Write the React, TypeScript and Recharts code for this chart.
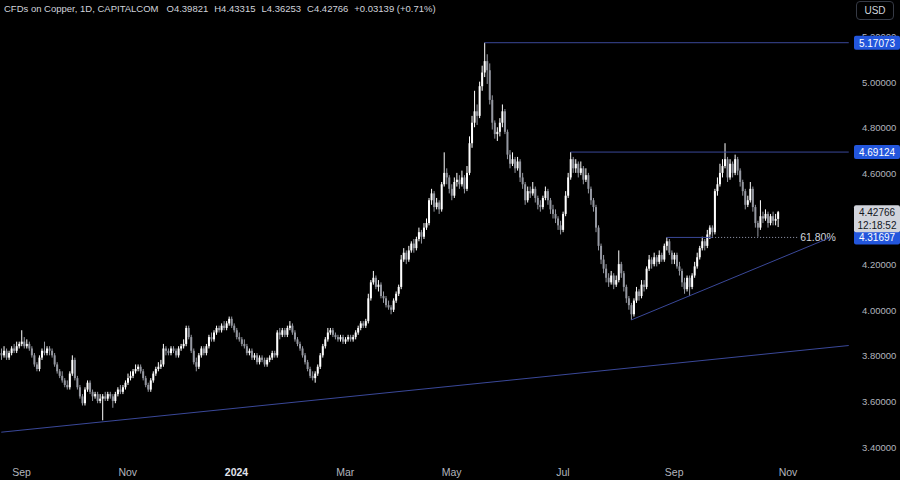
import React from "react";
import { ComposedChart, Bar, XAxis, YAxis, ReferenceLine } from "recharts";

// daily bars, index 0 = first bar of Sep 2023; bars -8..299, empty slots up to 327
const firstIndex = -8;
const lastSlot = 327;
const firstOpen = 3.81;

const closes = [
  3.80, 3.82, 3.79, 3.81, 3.83, 3.82, 3.84, 3.85, 3.86, 3.84,
  3.85, 3.83, 3.80, 3.76, 3.74, 3.79, 3.82, 3.81, 3.83, 3.82,
  3.80, 3.76, 3.73, 3.71, 3.69, 3.67, 3.66, 3.72, 3.78, 3.70,
  3.66, 3.62, 3.59, 3.65, 3.68, 3.64, 3.62, 3.63, 3.60, 3.61,
  3.62, 3.61, 3.63, 3.62, 3.60, 3.63, 3.65, 3.64, 3.66, 3.68,
  3.70, 3.71, 3.73, 3.74, 3.75, 3.73, 3.70, 3.67, 3.65, 3.69,
  3.72, 3.74, 3.75, 3.76, 3.83, 3.82, 3.81, 3.83, 3.82, 3.80,
  3.83, 3.84, 3.85, 3.92, 3.88, 3.82, 3.77, 3.75, 3.80, 3.83,
  3.81, 3.84, 3.88, 3.87, 3.90, 3.92, 3.91, 3.93, 3.92, 3.94,
  3.96, 3.93, 3.91, 3.88, 3.87, 3.85, 3.84, 3.81, 3.82, 3.79,
  3.80, 3.77, 3.79, 3.78, 3.76, 3.78, 3.79, 3.81, 3.80, 3.90,
  3.89, 3.91, 3.89, 3.92, 3.93, 3.90, 3.87, 3.85, 3.83, 3.80,
  3.77, 3.74, 3.71, 3.70, 3.72, 3.75, 3.80, 3.84, 3.87, 3.90,
  3.91, 3.89, 3.88, 3.87, 3.88, 3.86, 3.87, 3.88, 3.87, 3.88,
  3.90, 3.92, 3.94, 3.93, 3.95, 4.05, 4.12, 4.14, 4.10, 4.11,
  4.06, 4.05, 4.02, 4.01, 4.00, 4.04, 4.07, 4.10, 4.22, 4.25,
  4.22, 4.26, 4.29, 4.27, 4.31, 4.34, 4.32, 4.36, 4.38, 4.48,
  4.51, 4.45, 4.47, 4.44, 4.55, 4.60, 4.58, 4.53, 4.50, 4.56,
  4.57, 4.55, 4.58, 4.53, 4.60, 4.73, 4.82, 4.87, 4.85, 4.98,
  5.04, 5.09, 5.05, 4.92, 4.82, 4.77, 4.78, 4.82, 4.87, 4.78,
  4.68, 4.64, 4.66, 4.62, 4.65, 4.58, 4.55, 4.48, 4.52, 4.51,
  4.53, 4.49, 4.46, 4.45, 4.49, 4.52, 4.48, 4.44, 4.42, 4.40,
  4.37, 4.35, 4.42, 4.50, 4.58, 4.66, 4.62, 4.64, 4.60, 4.62,
  4.57, 4.59, 4.53, 4.48, 4.45, 4.36, 4.28, 4.22, 4.18, 4.14,
  4.12, 4.15, 4.11, 4.13, 4.20, 4.16, 4.10, 4.05, 4.02, 3.98,
  4.04, 4.08, 4.06, 4.11, 4.10, 4.18, 4.22, 4.20, 4.23, 4.21,
  4.24, 4.22, 4.28, 4.30, 4.25, 4.22, 4.24, 4.19, 4.17, 4.12,
  4.09, 4.14, 4.10, 4.15, 4.19, 4.23, 4.27, 4.30, 4.28, 4.33,
  4.36, 4.34, 4.52, 4.55, 4.60, 4.63, 4.66, 4.58, 4.64, 4.60,
  4.66, 4.61, 4.56, 4.52, 4.46, 4.48, 4.53, 4.45, 4.38, 4.36,
  4.41, 4.40, 4.42, 4.38, 4.41, 4.39, 4.39821, 4.42766,
];

const highs = [
  3.83, 3.84, 3.83, 3.82, 3.84, 3.85, 3.86, 3.86, 3.91, 3.88,
  3.87, 3.86, 3.84, 3.81, 3.77, 3.80, 3.83, 3.86, 3.84, 3.84,
  3.83, 3.81, 3.77, 3.74, 3.73, 3.70, 3.69, 3.73, 3.80, 3.79,
  3.71, 3.67, 3.63, 3.66, 3.69, 3.69, 3.65, 3.64, 3.64, 3.63,
  3.63, 3.64, 3.64, 3.64, 3.63, 3.64, 3.66, 3.67, 3.67, 3.69,
  3.72, 3.73, 3.74, 3.76, 3.76, 3.76, 3.74, 3.71, 3.68, 3.70,
  3.73, 3.75, 3.77, 3.78, 3.85, 3.84, 3.83, 3.84, 3.84, 3.83,
  3.84, 3.85, 3.87, 3.93, 3.93, 3.89, 3.83, 3.79, 3.81, 3.84,
  3.84, 3.85, 3.89, 3.90, 3.91, 3.93, 3.93, 3.94, 3.95, 3.95,
  3.97, 3.97, 3.94, 3.92, 3.90, 3.88, 3.87, 3.85, 3.83, 3.83,
  3.81, 3.81, 3.80, 3.80, 3.79, 3.79, 3.80, 3.82, 3.82, 3.91,
  3.92, 3.92, 3.92, 3.93, 3.95, 3.94, 3.91, 3.88, 3.86, 3.84,
  3.81, 3.78, 3.75, 3.73, 3.73, 3.76, 3.81, 3.85, 3.88, 3.92,
  3.92, 3.92, 3.90, 3.89, 3.89, 3.89, 3.88, 3.89, 3.89, 3.89,
  3.91, 3.93, 3.95, 3.95, 3.96, 4.07, 4.13, 4.17, 4.15, 4.13,
  4.12, 4.08, 4.06, 4.04, 4.02, 4.05, 4.08, 4.11, 4.24, 4.27,
  4.26, 4.28, 4.30, 4.31, 4.32, 4.36, 4.35, 4.38, 4.40, 4.49,
  4.53, 4.52, 4.49, 4.48, 4.56, 4.69, 4.62, 4.59, 4.55, 4.58,
  4.60, 4.59, 4.61, 4.59, 4.63, 4.76, 4.85, 4.96, 4.90, 5.00,
  5.07, 5.1707, 5.12, 5.08, 4.94, 4.83, 4.80, 4.84, 4.90, 4.88,
  4.79, 4.70, 4.69, 4.67, 4.67, 4.66, 4.60, 4.56, 4.54, 4.54,
  4.56, 4.54, 4.50, 4.48, 4.50, 4.54, 4.53, 4.49, 4.46, 4.44,
  4.41, 4.39, 4.43, 4.52, 4.60, 4.6912, 4.67, 4.66, 4.65, 4.65,
  4.63, 4.62, 4.60, 4.54, 4.49, 4.46, 4.37, 4.29, 4.24, 4.20,
  4.16, 4.17, 4.16, 4.15, 4.26, 4.21, 4.17, 4.11, 4.06, 4.03,
  4.05, 4.10, 4.09, 4.13, 4.13, 4.19, 4.24, 4.23, 4.25, 4.24,
  4.26, 4.25, 4.29, 4.317, 4.31, 4.26, 4.25, 4.25, 4.21, 4.18,
  4.14, 4.15, 4.15, 4.16, 4.21, 4.25, 4.28, 4.32, 4.31, 4.35,
  4.37, 4.37, 4.53, 4.58, 4.64, 4.66, 4.73, 4.67, 4.66, 4.65,
  4.68, 4.67, 4.62, 4.57, 4.53, 4.50, 4.56, 4.54, 4.46, 4.39,
  4.48, 4.43, 4.44, 4.43, 4.42, 4.43, 4.42, 4.43315,
];

const lows = [
  3.78, 3.79, 3.78, 3.78, 3.80, 3.81, 3.81, 3.83, 3.84, 3.83,
  3.83, 3.82, 3.79, 3.75, 3.73, 3.73, 3.78, 3.80, 3.80, 3.80,
  3.79, 3.75, 3.72, 3.70, 3.68, 3.66, 3.65, 3.65, 3.71, 3.69,
  3.65, 3.61, 3.58, 3.58, 3.64, 3.63, 3.60, 3.61, 3.59, 3.59,
  3.515, 3.60, 3.60, 3.61, 3.57, 3.59, 3.62, 3.63, 3.63, 3.65,
  3.67, 3.69, 3.70, 3.72, 3.73, 3.72, 3.69, 3.66, 3.64, 3.64,
  3.68, 3.71, 3.73, 3.74, 3.75, 3.80, 3.80, 3.80, 3.81, 3.79,
  3.79, 3.82, 3.83, 3.84, 3.87, 3.81, 3.76, 3.73, 3.74, 3.79,
  3.80, 3.80, 3.83, 3.86, 3.86, 3.89, 3.90, 3.90, 3.91, 3.91,
  3.93, 3.92, 3.90, 3.87, 3.86, 3.84, 3.83, 3.80, 3.80, 3.78,
  3.78, 3.76, 3.76, 3.77, 3.75, 3.75, 3.77, 3.78, 3.79, 3.79,
  3.87, 3.88, 3.88, 3.88, 3.91, 3.89, 3.86, 3.84, 3.82, 3.79,
  3.76, 3.73, 3.70, 3.69, 3.68, 3.71, 3.74, 3.79, 3.83, 3.86,
  3.89, 3.88, 3.87, 3.86, 3.86, 3.85, 3.85, 3.86, 3.86, 3.86,
  3.87, 3.89, 3.91, 3.92, 3.92, 3.94, 4.04, 4.11, 4.09, 4.08,
  4.05, 4.03, 4.01, 4.00, 3.98, 3.99, 4.03, 4.06, 4.09, 4.21,
  4.20, 4.21, 4.25, 4.25, 4.26, 4.30, 4.29, 4.31, 4.35, 4.37,
  4.46, 4.43, 4.44, 4.42, 4.43, 4.54, 4.55, 4.51, 4.48, 4.49,
  4.54, 4.53, 4.54, 4.51, 4.52, 4.59, 4.71, 4.80, 4.81, 4.84,
  4.96, 5.02, 4.99, 4.90, 4.79, 4.75, 4.74, 4.76, 4.80, 4.77,
  4.66, 4.62, 4.63, 4.60, 4.61, 4.56, 4.53, 4.46, 4.47, 4.49,
  4.50, 4.47, 4.44, 4.43, 4.44, 4.48, 4.46, 4.42, 4.40, 4.38,
  4.35, 4.33, 4.34, 4.41, 4.49, 4.57, 4.60, 4.60, 4.58, 4.59,
  4.55, 4.56, 4.51, 4.46, 4.43, 4.34, 4.26, 4.20, 4.16, 4.12,
  4.10, 4.11, 4.09, 4.10, 4.12, 4.14, 4.08, 4.03, 4.00, 3.955,
  3.97, 4.03, 4.04, 4.05, 4.08, 4.09, 4.17, 4.18, 4.19, 4.19,
  4.20, 4.21, 4.21, 4.26, 4.24, 4.20, 4.20, 4.18, 4.15, 4.10,
  4.07, 4.08, 4.06, 4.09, 4.14, 4.18, 4.22, 4.26, 4.26, 4.27,
  4.31, 4.32, 4.33, 4.50, 4.54, 4.58, 4.62, 4.56, 4.57, 4.58,
  4.59, 4.59, 4.54, 4.50, 4.44, 4.45, 4.47, 4.43, 4.36, 4.32,
  4.35, 4.38, 4.39, 4.36, 4.37, 4.37, 4.37, 4.36253,
];

const monthTickIndex = [0, 42, 85, 128, 170, 214, 258, 303];
const monthTickLabels = ["Sep", "Nov", "2024", "Mar", "May", "Jul", "Sep", "Nov"];

// 4.40000 sits under the last-price tag in the reference, so it is left out
const priceTicks = [3.4, 3.6, 3.8, 4.0, 4.2, 4.6, 4.8, 5.0, 5.2];
const levelPrices = [5.17073, 4.69124, 4.31697];
const lastPrice = 4.42766;
const countdown = "12:18:52";

const highLine = [{ x: 183, y: 5.17073 }, { x: lastSlot, y: 5.17073 }];
const julyLine = [{ x: 217, y: 4.69124 }, { x: lastSlot, y: 4.69124 }];
const fibSolid = [{ x: 255, y: 4.31697 }, { x: 273, y: 4.31697 }];
const fibDotted = [{ x: 273, y: 4.31697 }, { x: 307, y: 4.31697 }];
const risingTrend = [{ x: 241, y: 3.955 }, { x: 320, y: 4.318 }];
const longTrend = [{ x: firstIndex, y: 3.463 }, { x: lastSlot, y: 3.843 }];

const bars: any[] = [];
for (let k = 0; k <= lastSlot - firstIndex; k++) {
  const i = firstIndex + k;
  if (k < closes.length) {
    const o = k === 0 ? firstOpen : closes[k - 1];
    bars.push({ i, o, h: highs[k], l: lows[k], c: closes[k] });
  } else {
    bars.push({ i });
  }
}

const lineColor = "#3a4899";
const font = "'Liberation Sans', Arial, sans-serif";

function Candle(props: any) {
  const { x, y, width, height, payload } = props;
  if (!payload || payload.h == null) return null;
  const { o, h, l, c } = payload;
  const span = h - l || 1;
  const toY = (p: number) => y + ((h - p) / span) * height;
  const color = c >= o ? "#ffffff" : "#9598a1";
  const cx = x + width / 2;
  const top = toY(Math.max(o, c));
  const bottom = toY(Math.min(o, c));
  return (
    <g>
      <line x1={cx} x2={cx} y1={y} y2={y + height} stroke={color} strokeWidth={1} />
      <rect x={x} y={top} width={width} height={Math.max(1, bottom - top)} fill={color} />
    </g>
  );
}

function PriceTick(props: any) {
  const { x, y, payload } = props;
  const v = payload.value;
  if (levelPrices.includes(v)) {
    return (
      <g>
        <rect x={x + 2} y={y - 7} width={46} height={14} rx={2} fill="#2356dc" />
        <text x={x + 25} y={y + 4} textAnchor="middle" fill="#ffffff" fontSize={10} fontFamily={font}>
          {v.toFixed(5)}
        </text>
      </g>
    );
  }
  if (v === lastPrice) {
    return (
      <g>
        <rect x={x + 2} y={y - 7} width={46} height={27} rx={2} fill="#d1d4dc" />
        <text x={x + 25} y={y + 4} textAnchor="middle" fill="#131722" fontSize={10} fontFamily={font}>
          {v.toFixed(5)}
        </text>
        <text x={x + 25} y={y + 17} textAnchor="middle" fill="#131722" fontSize={10} fontFamily={font}>
          {countdown}
        </text>
      </g>
    );
  }
  return (
    <text x={x + 10} y={y + 4} fill="#b2b5be" fontSize={9.5} fontFamily={font}>
      {v.toFixed(5)}
    </text>
  );
}

function MonthTick(props: any) {
  const { x, y, payload } = props;
  const label = monthTickLabels[monthTickIndex.indexOf(payload.value)];
  const isYear = label === "2024";
  return (
    <text
      x={x}
      y={y + 19}
      textAnchor="middle"
      fill={isYear ? "#e0e3eb" : "#b2b5be"}
      fontWeight={isYear ? "bold" : "normal"}
      fontSize={10.5}
      fontFamily={font}
    >
      {label}
    </text>
  );
}

function FibLabel(props: any) {
  const vb = props.viewBox;
  return (
    <text x={vb.x + vb.width + 2} y={vb.y + 4} fill="#d1d4dc" fontSize={10.5} fontFamily={font}>
      61.80%
    </text>
  );
}

export default function App() {
  return (
    <div style={{ position: "fixed", left: 0, top: 0, width: 900, height: 480, background: "#000000" }}>
      <ComposedChart
        width={900}
        height={480}
        data={bars}
        margin={{ top: 0, right: 0, left: 0, bottom: 0 }}
        barCategoryGap="20%"
      >
        <XAxis
          dataKey="i"
          type="category"
          ticks={monthTickIndex}
          interval={0}
          tick={<MonthTick />}
          tickLine={false}
          axisLine={false}
          tickSize={0}
          height={25}
        />
        <YAxis
          orientation="right"
          type="number"
          domain={[3.363, 5.358]}
          allowDataOverflow
          ticks={[...priceTicks, ...levelPrices, lastPrice]}
          interval={0}
          tick={<PriceTick />}
          tickLine={false}
          axisLine={false}
          tickSize={0}
          width={50}
        />
        <ReferenceLine segment={longTrend} stroke={lineColor} strokeWidth={1} ifOverflow="visible" />
        <ReferenceLine segment={highLine} stroke={lineColor} strokeWidth={1} ifOverflow="visible" />
        <ReferenceLine segment={julyLine} stroke={lineColor} strokeWidth={1} ifOverflow="visible" />
        <ReferenceLine segment={fibSolid} stroke={lineColor} strokeWidth={1} ifOverflow="visible" />
        <ReferenceLine
          segment={fibDotted}
          stroke="#9aa0b5"
          strokeWidth={1}
          strokeDasharray="1 2"
          ifOverflow="visible"
          label={FibLabel}
        />
        <ReferenceLine segment={risingTrend} stroke={lineColor} strokeWidth={1} ifOverflow="visible" />
        <Bar
          dataKey={(d: any) => (d.h == null ? null : [d.l, d.h])}
          shape={Candle}
          isAnimationActive={false}
        />
      </ComposedChart>
      <div
        style={{
          position: "absolute",
          left: 4,
          top: 3,
          fontFamily: font,
          fontSize: 9.5,
          color: "#d1d4dc",
          whiteSpace: "nowrap",
        }}
      >
        <span>CFDs on Copper, 1D, CAPITALCOM</span>
        <span style={{ marginLeft: 8 }}>O4.39821</span>
        <span style={{ marginLeft: 6 }}>H4.43315</span>
        <span style={{ marginLeft: 6 }}>L4.36253</span>
        <span style={{ marginLeft: 6 }}>C4.42766</span>
        <span style={{ marginLeft: 6 }}>+0.03139 (+0.71%)</span>
      </div>
      <div
        style={{
          position: "absolute",
          left: 856,
          top: 1,
          width: 38,
          height: 19,
          border: "1px solid #363a45",
          borderRadius: 4,
          boxSizing: "border-box",
          fontFamily: font,
          fontSize: 10,
          color: "#d1d4dc",
          textAlign: "center",
          lineHeight: "17px",
        }}
      >
        USD
      </div>
    </div>
  );
}
